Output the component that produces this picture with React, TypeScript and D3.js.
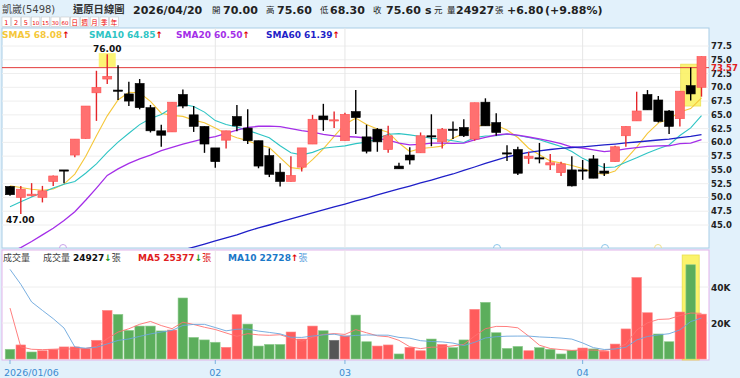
import React from 'react';
import * as d3 from 'd3';

const W = 740;
const H = 378;

// ---- Daily OHLC (2026/01/06 .. 2026/04/20) ----
const opens = [52.0, 50.0, 50.3, 50.0, 52.9, 55.0, 57.7, 60.7, 69.0, 71.5, 69.5, 68.8, 70.7, 66.3, 62.1, 61.9, 68.7, 65.0, 62.9, 59.0,
  60.4, 64.7, 62.6, 60.3, 57.6, 54.6, 52.9, 55.5, 59.7, 64.8, 64.0, 60.3, 65.6, 61.0, 62.4, 58.7, 55.7, 57.7, 58.1, 61.2,
  60.1, 62.4, 62.7, 60.6, 67.3, 63.6, 58.1, 58.7, 57.1, 57.2, 55.9, 54.5, 55.0, 55.0, 57.0, 54.8, 56.5, 61.2, 63.9, 68.7,
  67.7, 65.7, 64.3, 70.3, 70.0];
const highs = [52.1, 52.1, 52.6, 52.1, 54.0, 55.0, 60.6, 66.6, 73.0, 76.0, 74.0, 71.0, 71.5, 66.8, 63.2, 67.3, 69.6, 66.6, 62.9, 59.0,
  62.1, 66.8, 66.0, 60.3, 58.9, 56.2, 57.5, 59.0, 65.0, 67.0, 65.6, 65.4, 69.5, 63.2, 62.6, 63.0, 56.3, 59.1, 61.8, 65.1,
  62.6, 63.8, 64.2, 67.2, 68.0, 65.3, 59.5, 59.2, 58.3, 59.9, 57.9, 56.5, 57.5, 56.8, 57.7, 56.2, 59.4, 62.9, 69.2, 69.5,
  68.4, 65.9, 69.3, 73.6, 75.6];
const lows = [50.3, 47.0, 50.2, 49.1, 52.1, 52.6, 57.3, 60.7, 63.9, 70.6, 67.7, 66.6, 66.0, 61.8, 59.2, 61.9, 66.2, 61.9, 58.1, 55.4,
  58.9, 62.0, 59.7, 55.3, 53.7, 52.0, 52.9, 54.7, 59.7, 62.1, 62.6, 60.3, 61.5, 58.0, 58.3, 58.1, 55.2, 56.0, 58.1, 59.3,
  58.9, 60.6, 61.0, 60.3, 63.0, 61.2, 56.6, 54.1, 56.1, 56.2, 55.0, 53.9, 52.0, 53.2, 53.5, 53.9, 56.5, 59.2, 63.9, 65.9,
  63.6, 61.5, 62.9, 67.6, 68.3];
const closes = [50.5, 51.5, 50.6, 51.2, 53.9, 54.9, 60.6, 66.6, 70.0, 72.0, 69.3, 67.5, 66.3, 62.1, 61.3, 67.3, 66.6, 62.9, 59.7, 56.5,
  62.1, 63.0, 60.3, 55.7, 54.2, 52.9, 54.0, 59.0, 64.2, 64.1, 64.1, 65.1, 64.5, 58.4, 60.1, 61.2, 55.2, 56.8, 61.2, 61.0,
  62.4, 62.3, 61.2, 67.2, 63.0, 61.8, 58.0, 54.4, 57.5, 57.0, 56.3, 56.1, 52.1, 54.8, 53.5, 54.4, 59.2, 62.9, 65.7, 65.9,
  63.8, 62.9, 69.3, 68.8, 75.6];
// ---- Volume (張) ----
const volumes = [5400, 7800, 3900, 4600, 5400, 6700, 6700, 5900, 10400, 27000, 24800, 15900, 18300, 18300, 15600, 16100, 33900, 12000, 10600, 9300,
  6500, 24600, 19400, 7200, 8100, 8100, 15000, 11100, 18300, 15700, 10400, 12800, 24400, 9600, 7200, 7800, 2800, 6500, 4600, 11100,
  8100, 6300, 10600, 27600, 31500, 14600, 5900, 7000, 4600, 6300, 5400, 2800, 4800, 6100, 5600, 4400, 8300, 16700, 45295, 25700,
  13900, 9600, 26100, 52358, 24927];

// moving-average values at the start of the window (prior data not shown)
const sma5Lead = [52.1, 51.8, 51.5, 51.3];
const sma10Lead = [48.3, 49.2, 50.1, 50.9, 51.7, 52.4, 52.9, 54.4, 56.1];
const sma20Lead = [40.0, 40.9, 42.0, 43.2, 44.4, 45.8, 47.4, 49.5, 51.7, 54.0, 55.2, 56.2, 57.0, 57.7, 58.5, 59.1, 59.7, 60.2, 60.7];
const sma60 = [null, null, null, null, null, null, null, null, null, null, null, null, null, null, null, null,
  40.45, 41.0, 41.55, 42.1, 42.64, 43.2, 43.9, 44.46, 45.0, 45.55, 46.1, 46.64, 47.2, 47.73, 48.27, 48.8, 49.36, 49.9,
  50.45, 51.0, 51.54, 52.08, 52.63, 53.17, 53.72, 54.26, 54.9, 55.53, 56.17, 56.8, 57.35, 57.8, 58.17, 58.44, 58.71,
  58.93, 59.07, 59.2, 59.35, 59.53, 59.7, 59.9, 60.07, 60.25, 60.43, 60.6, 60.87, 61.1, 61.39];
const volMa5Lead = [28300, 6700, 5400, 5200];
const volMa10Lead = [49800, 41500, 31700, 27000, 22400, 17200, 6700, 6000, 6500];

const priceTicks = [45, 47.5, 50, 52.5, 55, 57.5, 60, 62.5, 65, 67.5, 70, 72.5, 75, 77.5];
const volTicks = [20000, 40000];
const volTickLabels = ['20K', '40K'];
const dateTickIdx = [0, 19, 31, 53];
const dateTickLabels = ['2026/01/06', '02', '03', '04'];
const refPrice = 73.57;
const maNames = ['SMA5', 'SMA10', 'SMA20', 'SMA60'];
const maColors = ['#f5c73a', '#2ec4c4', '#a42ee8', '#1f1fc8'];
const periodButtons = ['1', '2', '5', '10', '15', '30', '60', '日', '週', '月', '季', '年'];

const FONT = "'DejaVu Sans', 'Noto Sans CJK TC', sans-serif";

function rolling(arr: number[], p: number, lead: number[]) {
  return arr.map((_, i) => (i < p - 1 ? (lead[i] ?? null) : (d3.mean(arr.slice(i - p + 1, i + 1)) as number)));
}

export default function App() {
  const n = closes.length;
  const x = d3.scalePoint<number>().domain(d3.range(n)).range([10, 701.5]);
  const y = d3.scaleLinear().domain([45, 77.5]).range([225, 46]);
  const yv = d3.scaleLinear().domain([0, 40000]).range([359, 287]);

  const sma5 = rolling(closes, 5, sma5Lead);
  const sma10 = rolling(closes, 10, sma10Lead);
  const sma20 = rolling(closes, 20, sma20Lead);
  const mas = [sma5, sma10, sma20, sma60 as (number | null)[]];
  const vma5 = rolling(volumes, 5, volMa5Lead);
  const vma10 = rolling(volumes, 10, volMa10Lead);

  const pLine = d3.line<number | null>().defined((d) => d != null).x((_, i) => x(i) as number).y((d) => y(d as number));
  const vLine = d3.line<number | null>().defined((d) => d != null).x((_, i) => x(i) as number).y((d) => yv(d as number));

  const last = n - 1;
  const arrow = (cur: number, prev: number) => (cur >= prev ? { ch: '↑', col: '#e00000' } : { ch: '↓', col: '#1a9a1a' });

  const hiIdx = d3.maxIndex(highs);
  const loIdx = d3.minIndex(lows);
  const hlIdx = 63;

  const L = 2, R = 709, T = 28, B = 248, VT = 250, VB = 360;

  return (
    <svg width={W} height={H} style={{ position: 'absolute', left: 0, top: 0 }} fontFamily={FONT}>
      <defs>
        <clipPath id="mainClip"><rect x={L} y={T} width={R - L} height={B - T} /></clipPath>
        <clipPath id="volClip"><rect x={L} y={VT} width={R - L} height={VB - VT} /></clipPath>
      </defs>
      <rect x={0} y={0} width={W} height={H} fill="#e2f1fb" />

      {/* header */}
      <g fontSize={11} fill="#222">
        <text x={2} y={13} fontSize={10} fill="#444">凱崴(5498)</text>
        <text x={73} y={13} fontSize={10.3} fontWeight="bold" fill="#333">還原日線圖</text>
        <text x={133} y={13.5} fontWeight="bold">2026/04/20</text>
        <text x={212} y={13} fontSize={8.5}>開</text>
        <text x={223} y={13.5} fontWeight="bold">70.00</text>
        <text x={266} y={13} fontSize={8.5}>高</text>
        <text x={277} y={13.5} fontWeight="bold">75.60</text>
        <text x={320} y={13} fontSize={8.5}>低</text>
        <text x={330} y={13.5} fontWeight="bold">68.30</text>
        <text x={373} y={13} fontSize={8.5}>收</text>
        <text x={386} y={13.5} fontWeight="bold">75.60</text>
        <text x={425} y={13.5} fontWeight="bold">s</text>
        <text x={434} y={13} fontSize={8.5}>元</text>
        <text x={447} y={13} fontSize={8.5}>量</text>
        <text x={456} y={13.5} fontWeight="bold">24927</text>
        <text x={495} y={13} fontSize={8.5}>張</text>
        <text x={507} y={13.5} fontWeight="bold">+6.80</text>
        <text x={545} y={13.5} fontWeight="bold">(+9.88%)</text>
      </g>
      {periodButtons.map((b, k) => (
        <g key={b}>
          <rect x={2 + k * 9.8} y={17} width={8.5} height={9.5} fill="#fff" stroke="#c8c8c8" strokeWidth={0.6} />
          <text x={2 + k * 9.8 + 4.25} y={24.5} fontSize={b.length > 1 ? 5.5 : 6.5} fill="#e00" textAnchor="middle">{b}</text>
        </g>
      ))}

      {/* panels */}
      <rect x={L} y={T} width={R - L} height={B - T} fill="#fff" stroke="#a9cde6" strokeWidth={1} />
      <rect x={L} y={VT} width={R - L} height={VB - VT} fill="#fff" stroke="#e2b3ea" strokeWidth={1} />

      {/* grid */}
      {priceTicks.map((t) => (
        <line key={t} x1={L} x2={R} y1={y(t)} y2={y(t)} stroke="#eeeeee" strokeWidth={1} />
      ))}
      {volTicks.map((t) => (
        <line key={t} x1={L} x2={R} y1={yv(t)} y2={yv(t)} stroke="#eeeeee" strokeWidth={1} />
      ))}
      {dateTickIdx.slice(1).map((i) => (
        <g key={i}>
          <line x1={x(i)} x2={x(i)} y1={T} y2={B} stroke="#e6e6e6" />
          <line x1={x(i)} x2={x(i)} y1={VT} y2={VB} stroke="#e6e6e6" />
        </g>
      ))}

      {/* highlight boxes */}
      <rect x={(x(hiIdx) as number) - 8.5} y={y(76.2)} width={17} height={y(73.7) - y(76.2)} fill="#fbf25c" opacity={0.85} />
      <rect x={(x(hlIdx) as number) - 10} y={y(74.2)} width={20} height={y(66.6) - y(74.2)} fill="#fbf25c" stroke="#e8dc3a" strokeWidth={0.8} opacity={0.85} />
      <rect x={(x(hlIdx) as number) - 8.5} y={255} width={17} height={VB - 255} fill="#fbf25c" stroke="#e8dc3a" strokeWidth={0.8} opacity={0.9} />

      {/* reference line */}
      <line x1={L} x2={R} y1={y(refPrice)} y2={y(refPrice)} stroke="#e23a3a" strokeWidth={1} />

      {/* MA lines */}
      <g clipPath="url(#mainClip)" fill="none">
        {mas.map((m, k) => (
          <path key={k} d={pLine(m) || ''} stroke={maColors[k]} strokeWidth={k >= 2 ? 1.3 : 1.1} />
        ))}
      </g>

      {/* candles */}
      <g clipPath="url(#mainClip)">
        {closes.map((c, i) => {
          const o = opens[i];
          const up = c > o;
          const cx = x(i) as number;
          const top = y(Math.max(o, c));
          const h = Math.max(1.2, Math.abs(y(o) - y(c)));
          return (
            <g key={i}>
              <line x1={cx} x2={cx} y1={y(highs[i])} y2={y(lows[i])} stroke={up ? '#e5262a' : '#000'} strokeWidth={1.4} />
              <rect x={cx - 4.5} y={top} width={9} height={h} fill={up ? '#ff7070' : '#000'} stroke={up ? '#ff5050' : '#000'} strokeWidth={0.6} />
            </g>
          );
        })}
      </g>

      {/* high / low labels */}
      <text x={x(hiIdx)} y={52} fontSize={9} fontWeight="bold" textAnchor="middle" fill="#111">{highs[hiIdx].toFixed(2)}</text>
      <text x={6} y={223} fontSize={9} fontWeight="bold" fill="#111">{lows[loIdx].toFixed(2)}</text>

      {/* event markers */}
      {[[63, '#c9a3ea'], [497, '#8cc6ea'], [605, '#8cc6ea'], [658, '#efe08a']].map(([mx, col], k) => (
        <path key={k} d={`M${(mx as number) - 3.5},${B} A3.5,3.5 0 0 1 ${(mx as number) + 3.5},${B}`} fill="none" stroke={col as string} strokeWidth={1} />
      ))}

      {/* MA legend */}
      <text y={37.5} fontSize={9} fontWeight="bold">
        {maNames.map((nm, k) => {
          const m = mas[k];
          const a = arrow(m[last] as number, m[last - 1] as number);
          const xs = [2, 89, 176, 266];
          return (
            <tspan key={k} x={xs[k]}>
              <tspan fill={maColors[k]}>{`${nm} ${(m[last] as number).toFixed(2)}`}</tspan>
              <tspan fill={a.col}>{a.ch}</tspan>
            </tspan>
          );
        })}
      </text>

      {/* price axis */}
      <g fontSize={8.5} fontWeight="bold" fill="#222">
        {priceTicks.map((t) => (
          <text key={t} x={711} y={y(t) + 3}>{t.toFixed(1)}</text>
        ))}
      </g>
      <text x={711} y={y(refPrice) + 3} fontSize={8.5} fontWeight="bold" fill="#e02020">{refPrice.toFixed(2)}</text>

      {/* volume bars */}
      <g clipPath="url(#volClip)">
        {volumes.map((v, i) => {
          const c = closes[i];
          const prev = i === 0 ? opens[0] : closes[i - 1];
          const col = c > prev ? '#ff5c5c' : c < prev ? '#5cae5c' : '#555555';
          const stroke = c > prev ? '#ff8a8a' : c < prev ? '#8fcc8f' : '#777';
          const cx = x(i) as number;
          return <rect key={i} x={cx - 4.8} y={yv(v)} width={9.6} height={yv(0) - yv(v)} fill={col} stroke={stroke} strokeWidth={0.6} />;
        })}
        <path d={vLine(vma5) || ''} fill="none" stroke="#ff7070" strokeWidth={0.9} />
        <path d={vLine(vma10) || ''} fill="none" stroke="#6aa6dc" strokeWidth={0.9} />
      </g>

      {/* volume legend */}
      <g fontSize={9}>
        <text x={3} y={261} fill="#444">成交量</text>
        <text x={43} y={261} fill="#444">
          成交量 <tspan fontWeight="bold" fill="#111">{volumes[last]}</tspan>
          <tspan fill={arrow(volumes[last], volumes[last - 1]).col} fontWeight="bold">{arrow(volumes[last], volumes[last - 1]).ch}</tspan>
          <tspan>張</tspan>
        </text>
        <text x={138} y={261} fill="#e02020">
          <tspan fontWeight="bold">{`MA5 ${Math.round(vma5[last] as number)}`}</tspan>
          <tspan fill={arrow(vma5[last] as number, vma5[last - 1] as number).col} fontWeight="bold">{arrow(vma5[last] as number, vma5[last - 1] as number).ch}</tspan>
          <tspan>張</tspan>
        </text>
        <text x={228} y={261} fill="#1a78c8">
          <tspan fontWeight="bold">{`MA10 ${Math.round(vma10[last] as number)}`}</tspan>
          <tspan fill={arrow(vma10[last] as number, vma10[last - 1] as number).col} fontWeight="bold">{arrow(vma10[last] as number, vma10[last - 1] as number).ch}</tspan>
          <tspan fill="#5aa0dc">張</tspan>
        </text>
      </g>

      {/* volume axis */}
      <g fontSize={9} fontWeight="bold" fill="#222">
        {volTicks.map((t, k) => (
          <text key={t} x={711} y={yv(t) + 3.5}>{volTickLabels[k]}</text>
        ))}
      </g>

      {/* date axis */}
      {dateTickIdx.map((i, k) => (
        <g key={i}>
          <line x1={x(i)} x2={x(i)} y1={VB} y2={VB + 4} stroke="#7ab2de" />
          <text x={k === 0 ? 4 : x(i)} y={376} fontSize={9.5} fill="#3a8cd2" textAnchor={k === 0 ? 'start' : 'middle'}>{dateTickLabels[k]}</text>
        </g>
      ))}
    </svg>
  );
}
